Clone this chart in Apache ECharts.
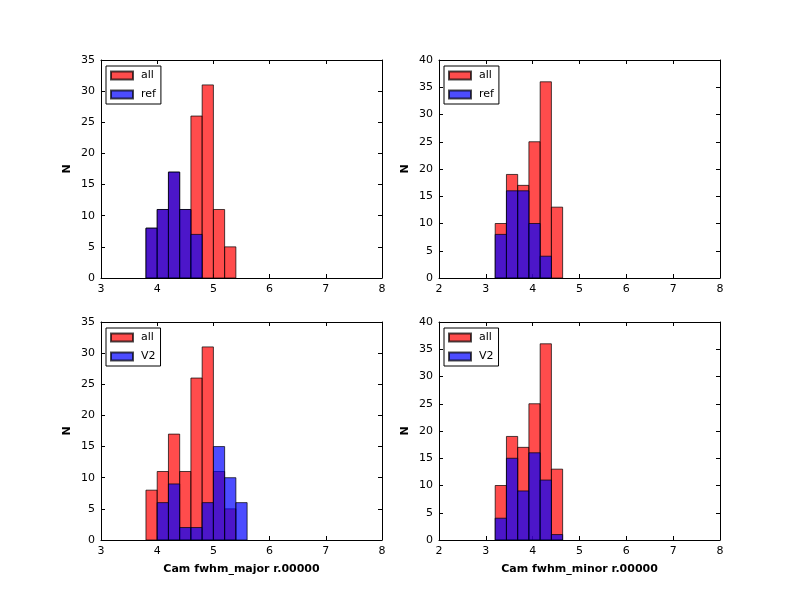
<!DOCTYPE html>
<html>
<head>
<meta charset="utf-8">
<script src="https://cdn.jsdelivr.net/npm/echarts@6/dist/echarts.min.js"></script>
<style>
	html, body { margin: 0; padding: 0; background: #fff; }
	#e_chart_1 { width: 800px; height: 600px; }
</style>
</head>
<body>
<div id="e_chart_1"></div>
<script>
"use strict";

/*****Data start*****/
// left bin edges, width of each bin
var majorLeft = [3.8, 4.0, 4.2, 4.4, 4.6, 4.8, 5.0, 5.2, 5.4];
var majorWidth = 0.2;
var minorLeft = [3.2, 3.44, 3.68, 3.92, 4.16, 4.40];
var minorWidth = 0.24;

var majorAll = [8, 11, 17, 11, 26, 31, 11, 5, 0];
var majorRef = [8, 11, 17, 11, 7, 0, 0, 0, 0];
var majorV2  = [0, 6, 9, 2, 2, 6, 15, 10, 6];

var minorAll = [10, 19, 17, 25, 36, 13];
var minorRef = [8, 16, 16, 10, 4, 0];
var minorV2  = [4, 15, 9, 16, 11, 1];
/*****Data end*****/

var font = "'DejaVu Sans', sans-serif";

var toBins = function(left, width, counts) {
	var out = [];
	for (var i = 0; i < counts.length; i++) {
		if (counts[i] > 0) out.push([left[i], left[i] + width, counts[i]]);
	}
	return out;
};

var renderBar = function(params, api) {
	var p0 = api.coord([api.value(0), api.value(2)]);
	var p1 = api.coord([api.value(1), 0]);
	return {
		type: 'rect',
		shape: { x: p0[0], y: p0[1], width: p1[0] - p0[0], height: p1[1] - p0[1] },
		style: api.style()
	};
};

var panels = [
	{ grid: { left: 101, top: 60, width: 281, height: 218 }, xMin: 3, yMax: 35, left: majorLeft, w: majorWidth, all: majorAll, other: majorRef, otherName: 'ref', xName: '' },
	{ grid: { left: 439, top: 60, width: 281, height: 218 }, xMin: 2, yMax: 40, left: minorLeft, w: minorWidth, all: minorAll, other: minorRef, otherName: 'ref', xName: '' },
	{ grid: { left: 101, top: 322, width: 281, height: 218 }, xMin: 3, yMax: 35, left: majorLeft, w: majorWidth, all: majorAll, other: majorV2, otherName: 'V2', xName: 'Cam fwhm_major r.00000' },
	{ grid: { left: 439, top: 322, width: 281, height: 218 }, xMin: 2, yMax: 40, left: minorLeft, w: minorWidth, all: minorAll, other: minorV2, otherName: 'V2', xName: 'Cam fwhm_minor r.00000' }
];

/*****E-Charts function start*****/
var option = {
	animation: false,
	backgroundColor: '#fff',
	grid: [], xAxis: [], yAxis: [], legend: [], series: []
};

panels.forEach(function(p, i) {
	var axLine = { show: true, onZero: false, lineStyle: { color: '#000', width: 1 } };
	var tick = { show: true, inside: true, length: 4, lineStyle: { color: '#000' } };
	option.grid.push(p.grid);
	// bottom and top x axes
	option.xAxis.push({
		gridIndex: i, type: 'value', min: p.xMin, max: 8, interval: 1, position: 'bottom',
		axisLine: axLine, axisTick: tick, splitLine: { show: false },
		axisLabel: { color: '#000', fontFamily: font, fontSize: 11, margin: 6 },
		name: p.xName, nameLocation: 'middle', nameGap: 24,
		nameTextStyle: { color: '#000', fontFamily: font, fontSize: 11, fontWeight: 'bold' }
	});
	option.xAxis.push({
		gridIndex: i, type: 'value', min: p.xMin, max: 8, interval: 1, position: 'top',
		axisLine: axLine, axisTick: tick, splitLine: { show: false }, axisLabel: { show: false }
	});
	// left and right y axes
	option.yAxis.push({
		gridIndex: i, type: 'value', min: 0, max: p.yMax, interval: 5, position: 'left',
		axisLine: axLine, axisTick: tick, splitLine: { show: false },
		axisLabel: { color: '#000', fontFamily: font, fontSize: 11, margin: 6 },
		name: 'N', nameLocation: 'middle', nameGap: 28,
		nameTextStyle: { color: '#000', fontFamily: font, fontSize: 11, fontWeight: 'bold' }
	});
	option.yAxis.push({
		gridIndex: i, type: 'value', min: 0, max: p.yMax, interval: 5, position: 'right',
		axisLine: axLine, axisTick: tick, splitLine: { show: false }, axisLabel: { show: false }
	});

	option.legend.push({
		left: p.grid.left + 5, top: p.grid.top + 6, orient: 'vertical',
		data: [
			{ name: 'all', icon: 'rect' },
			{ name: p.otherName, icon: 'rect' }
		],
		itemWidth: 22, itemHeight: 8, itemGap: 8,
		padding: [4, 5, 4, 4],
		borderColor: '#000', borderWidth: 1, backgroundColor: '#fff',
		selectedMode: false,
		textStyle: { color: '#000', fontFamily: font, fontSize: 11, padding: [0, 0, 0, 3] }
	});

	option.series.push({
		name: 'all', type: 'custom', xAxisIndex: i * 2, yAxisIndex: i * 2,
		renderItem: renderBar, encode: { x: [0, 1], y: 2 },
		itemStyle: { color: '#ff0000', borderColor: '#000', borderWidth: 1, opacity: 0.7 },
		data: toBins(p.left, p.w, p.all)
	});
	option.series.push({
		name: p.otherName, type: 'custom', xAxisIndex: i * 2, yAxisIndex: i * 2,
		renderItem: renderBar, encode: { x: [0, 1], y: 2 },
		itemStyle: { color: '#0000ff', borderColor: '#000', borderWidth: 1, opacity: 0.7 },
		data: toBins(p.left, p.w, p.other)
	});
});

var eChart_1 = echarts.init(document.getElementById('e_chart_1'));
eChart_1.setOption(option);
/*****E-Charts function end*****/
</script>
</body>
</html>
